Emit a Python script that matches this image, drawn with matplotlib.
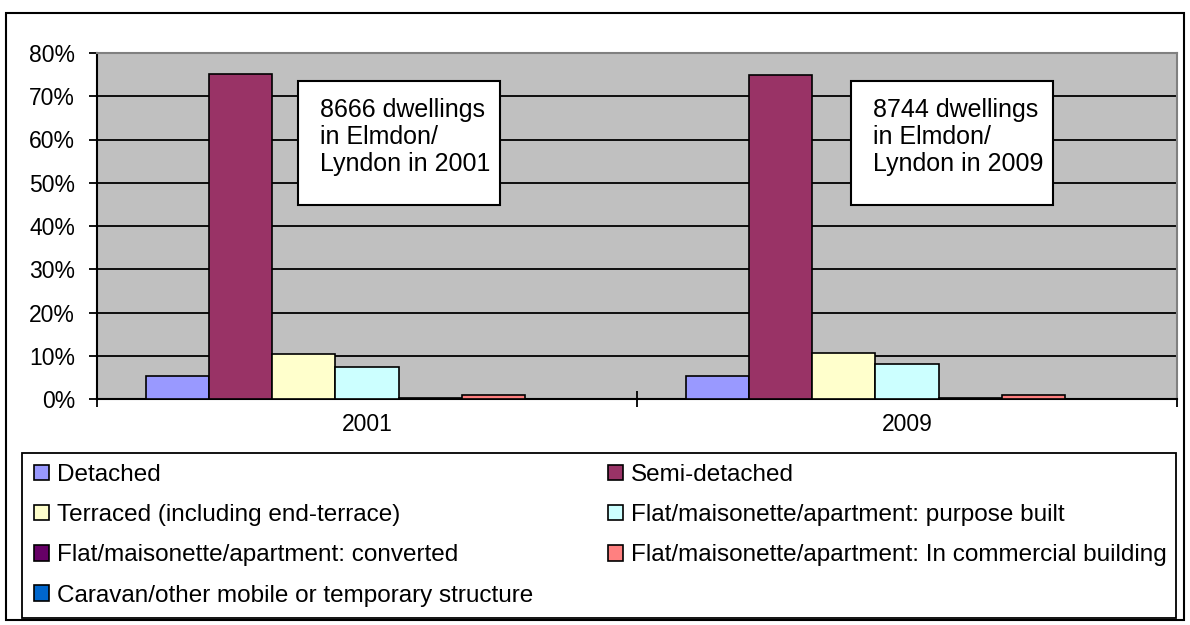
import matplotlib.pyplot as plt
import matplotlib.patches as mpatches
import numpy as np

plt.rcParams['font.family'] = ['Liberation Sans', 'DejaVu Sans']

# Dwelling type shares (%) in Elmdon/Lyndon
years = ['2001', '2009']
series = ['Detached', 'Semi-detached', 'Terraced (including end-terrace)',
          'Flat/maisonette/apartment: purpose built',
          'Flat/maisonette/apartment: converted',
          'Flat/maisonette/apartment: In commercial building',
          'Caravan/other mobile or temporary structure']
values_2001 = [5.4, 75.2, 10.5, 7.5, 0.3, 1.0, 0.0]
values_2009 = [5.3, 74.8, 10.6, 8.0, 0.3, 1.0, 0.0]
colors = ['#9999FF', '#993366', '#FFFFCC', '#CCFFFF', '#660066', '#FF8080', '#0066CC']
notes = ['8666 dwellings\nin Elmdon/\nLyndon in 2001',
         '8744 dwellings\nin Elmdon/\nLyndon in 2009']

W, H = 1190, 625
fig = plt.figure(figsize=(W / 100, H / 100), dpi=100)

# outer chart border
fig.patches.append(mpatches.Rectangle((6 / W, 5 / H), 1178 / W, 607 / H,
                                      transform=fig.transFigure, fill=False,
                                      edgecolor='black', linewidth=1.5))

ax = fig.add_axes([97 / W, (H - 399) / H, 1080 / W, 346 / H])
ax.set_facecolor('#C0C0C0')

x = np.arange(len(years))
n = len(series)
width = 0.117
handles = []
for i, (name, col) in enumerate(zip(series, colors)):
    vals = [values_2001[i], values_2009[i]]
    offs = (i - (n - 1) / 2) * width
    b = ax.bar(x + offs, vals, width, color=col, edgecolor='black',
               linewidth=1.2, zorder=3, label=name)
    handles.append(b)

ax.set_ylim(0, 80)
ax.set_yticks(np.arange(0, 81, 10))
ax.set_yticklabels([f'{v}%' for v in range(0, 81, 10)], fontsize=16.5)
ax.yaxis.grid(True, color='black', linewidth=1.3, zorder=1)
ax.tick_params(axis='y', length=5.8, width=1.3, direction='out', pad=10)

ax.set_xlim(-0.5, 1.5)
ax.set_xticks([-0.5, 0.5, 1.5])
ax.set_xticklabels([])
ax.set_xticks(x, minor=True)
ax.set_xticklabels(years, minor=True, fontsize=16.5)
ax.tick_params(axis='x', which='major', length=11, width=1.3, direction='inout')
ax.tick_params(axis='x', which='minor', length=0, pad=10)

for side in ['left', 'bottom']:
    ax.spines[side].set_color('black')
    ax.spines[side].set_linewidth(1.5)
for side in ['top', 'right']:
    ax.spines[side].set_color('#808080')
    ax.spines[side].set_linewidth(1.5)

# annotation boxes (axes fraction)
for bx, note in zip([0.1861, 0.6981], notes):
    ax.add_patch(mpatches.Rectangle((bx, 0.561), 0.187, 0.358, transform=ax.transAxes,
                                    facecolor='white', edgecolor='black',
                                    linewidth=1.5, zorder=5))
    ax.text(bx + 0.0204, 0.659, note, transform=ax.transAxes, fontsize=18,
            ha='left', va='baseline', linespacing=1.17, zorder=6)

# legend frame
fig.patches.append(mpatches.Rectangle((22 / W, (H - 618) / H), 1154 / W, 165 / H,
                                      transform=fig.transFigure, fill=False,
                                      edgecolor='black', linewidth=1.3))
# legend, filled row-wise like the original (two columns)
order = [0, 2, 4, 6, 1, 3, 5]
leg = fig.legend([handles[i] for i in order], [series[i] for i in order],
                 ncol=2, fontsize=17.5, loc='upper left',
                 bbox_to_anchor=(34 / W, (H - 464) / H), frameon=False,
                 handlelength=0.6, handleheight=0.6, handletextpad=0.33,
                 labelspacing=0.75, columnspacing=3.1, borderpad=0,
                 borderaxespad=0)

plt.savefig('out.png', dpi=100)
plt.close()
